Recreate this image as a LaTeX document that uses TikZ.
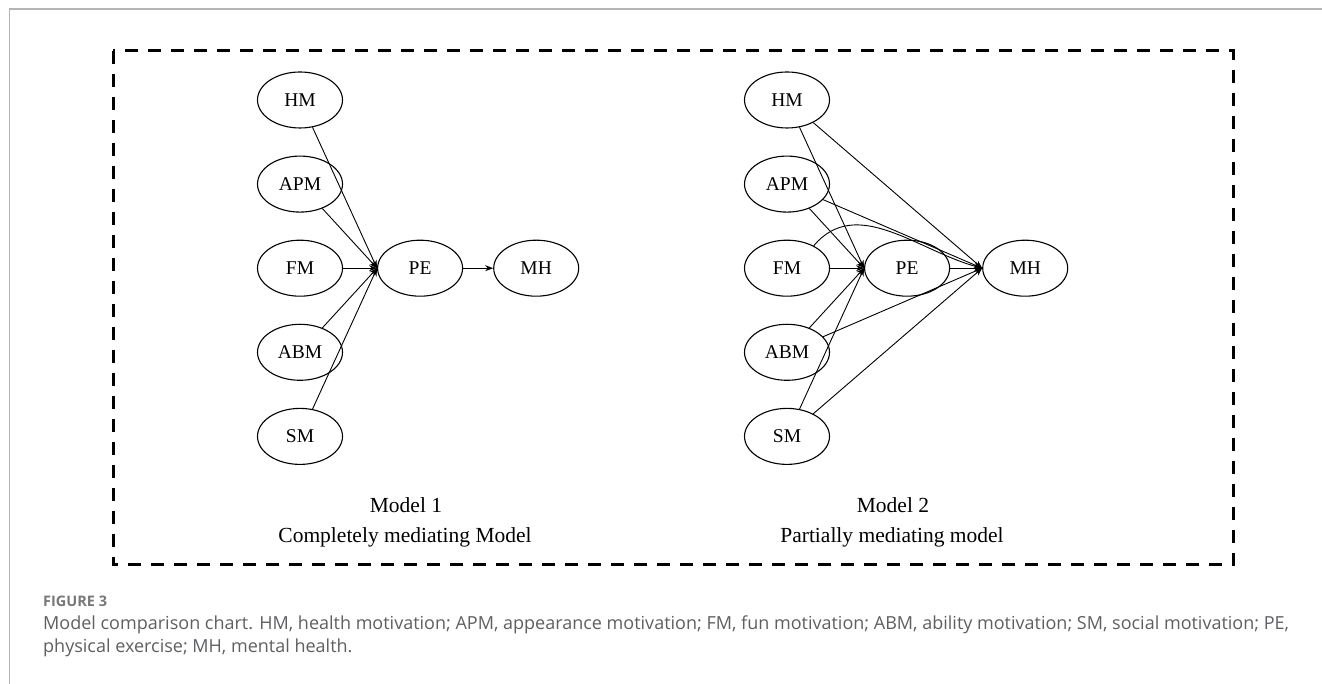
\documentclass[tikz,border=0pt]{standalone}
\usepackage{fontspec}
\setmainfont{Liberation Serif}
\newfontfamily\capfont{Open Sans}
\usepackage{xcolor}
\usepackage{tikz}
\usetikzlibrary{shapes.geometric, arrows.meta, positioning}
\definecolor{capgray}{HTML}{5E5F61}
\definecolor{rulegray}{HTML}{B4B4B4}
\tikzstyle{var} = [ellipse, draw=black, line width=1.1pt, minimum width=85pt,
    minimum height=56pt, inner sep=0pt, font=\fontsize{19.5}{22}\selectfont]
\tikzstyle{arrow} = [line width=0.9pt, -{Stealth[length=8pt, width=6pt]}]
\tikzstyle{title} = [font=\fontsize{21.5}{25}\selectfont]
\tikzstyle{frame} = [draw=black, line width=3pt, dash pattern=on 13pt off 10pt]
\tikzstyle{caption} = [anchor=west, inner sep=0pt, text=capgray,
    font=\capfont\fontsize{18}{21}\selectfont]

\begin{document}
\begin{tikzpicture}[x=1pt, y=1pt, node distance=27pt and 34pt]
  \useasboundingbox (0,0) rectangle (1322,684);
  \draw[rulegray, line width=1.5pt] (1322,675) -- (9.5,675) -- (9.5,0);
  \draw[frame] (113,633) rectangle (1233,119);

  % model 1
  \node[var] (hm1) at (300,584) {HM};
  \node[var, below=of hm1] (apm1) {APM};
  \node[var, below=of apm1] (fm1) {FM};
  \node[var, below=of fm1] (abm1) {ABM};
  \node[var, below=of abm1] (sm1) {SM};
  \node[var, right=of fm1] (pe1) {PE};
  \node[var, right=30pt of pe1] (mh1) {MH};
  \node[title] (m1) at (406,179) {Model 1};
  \node[title] (m1txt) at (405,147) {Completely mediating Model};

  \draw[arrow](hm1)--(pe1.west);
  \draw[arrow](apm1)--(pe1.west);
  \draw[arrow](fm1)--(pe1.west);
  \draw[arrow](abm1)--(pe1.west);
  \draw[arrow](sm1)--(pe1.west);
  \draw[arrow](pe1)--(mh1);

  % model 2
  \node[var] (hm2) at (787,584) {HM};
  \node[var, below=of hm2] (apm2) {APM};
  \node[var, below=of apm2] (fm2) {FM};
  \node[var, below=of fm2] (abm2) {ABM};
  \node[var, below=of abm2] (sm2) {SM};
  \node[var, right=of fm2] (pe2) {PE};
  \node[var, right=32pt of pe2] (mh2) {MH};
  \node[title] (m2) at (893,179) {Model 2};
  \node[title] (m2txt) at (892,147) {Partially mediating model};

  \draw[arrow](hm2)--(pe2.west);
  \draw[arrow](apm2)--(pe2.west);
  \draw[arrow](fm2)--(pe2.west);
  \draw[arrow](abm2)--(pe2.west);
  \draw[arrow](sm2)--(pe2.west);
  \draw[arrow](hm2)--(mh2.west);
  \draw[arrow](apm2)--(mh2.west);
  \draw[arrow](fm2.40) to[out=50, in=165] (mh2.west);
  \draw[arrow](abm2)--(mh2.west);
  \draw[arrow](sm2)--(mh2.west);
  \draw[arrow](pe2)--(mh2);

  % caption
  \node[caption, font=\capfont\bfseries\fontsize{14.5}{17}\selectfont, text=capgray!85]
    (fig) at (43,83) {FIGURE 3};
  \node[caption] (cap1) at (43,59) {Model comparison chart. HM, health motivation; APM,
    appearance motivation; FM, fun motivation; ABM, ability motivation; SM, social
    motivation; PE,};
  \node[caption] (cap2) at (43,36) {physical exercise; MH, mental health.};
\end{tikzpicture}
\end{document}
